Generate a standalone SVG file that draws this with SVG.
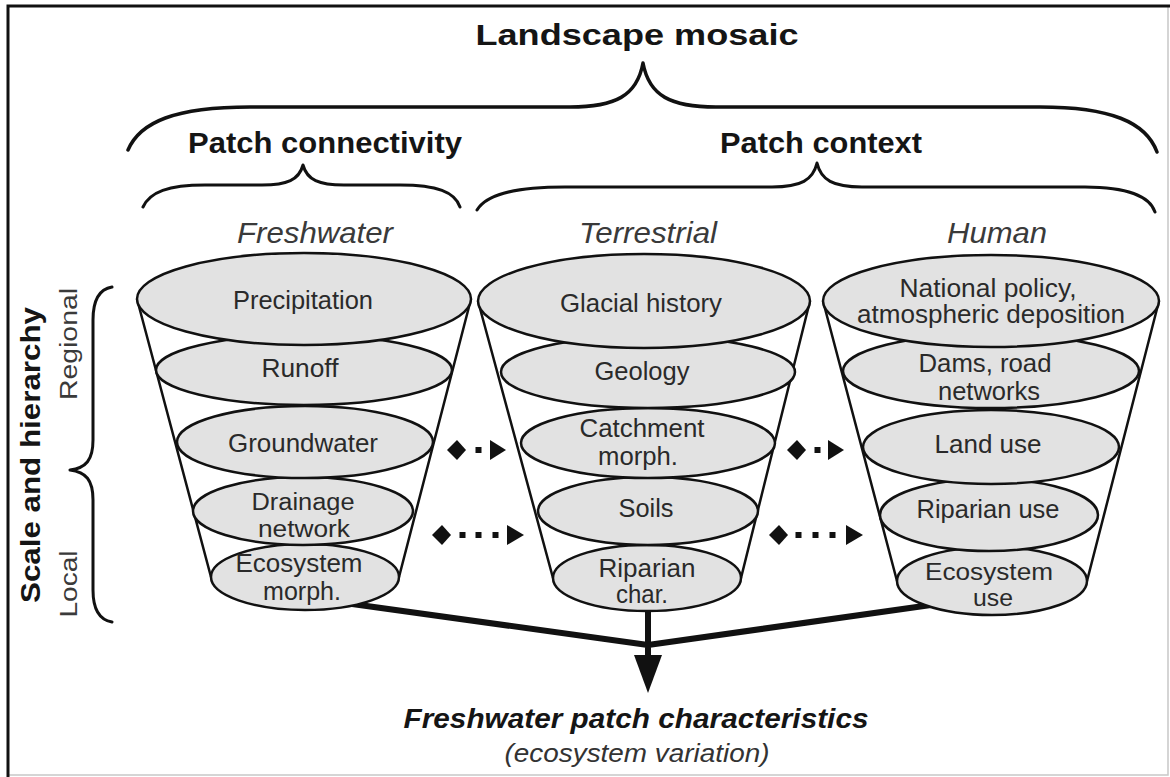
<svg xmlns="http://www.w3.org/2000/svg" width="1170" height="777" viewBox="0 0 1170 777">
<style>
.bg{fill:#fff}
.frame{fill:none;stroke:#111;stroke-width:3}
.frame2{fill:none;stroke:#c8c8c8;stroke-width:1.5}
.brace{fill:none;stroke:#111;stroke-width:3.5;stroke-linecap:round;stroke-linejoin:round}
.brace2{fill:none;stroke:#111;stroke-width:3;stroke-linecap:round;stroke-linejoin:round}
.cone{fill:none;stroke:#111;stroke-width:2.5}
.disc{fill:#e2e2e2;stroke:#111;stroke-width:2.5}
.lbl{font-family:"Liberation Sans",Arial,sans-serif;font-size:25px;fill:#2a2a2a;text-anchor:middle}
.lbs{font-family:"Liberation Sans",Arial,sans-serif;font-size:23px;fill:#2a2a2a;text-anchor:middle}
.hdr{font-family:"Liberation Sans",Arial,sans-serif;font-size:30px;font-style:italic;fill:#3a3a3a;text-anchor:middle}
.ttl{font-family:"Liberation Sans",Arial,sans-serif;font-size:30px;font-weight:bold;fill:#151515;text-anchor:middle}
.side{font-family:"Liberation Sans",Arial,sans-serif;text-anchor:middle}
.flow{fill:none;stroke:#111;stroke-width:6;stroke-linecap:round;stroke-linejoin:round}
.head{fill:#111}
</style>
<rect class="bg" x="0" y="0" width="1170" height="777"/>
<path class="frame2" d="M1168,6 V775 H8"/>
<path class="frame" d="M8,777 V6 H1170"/>

<g id="titles">
<text class="ttl" x="637" y="45" font-size="31" textLength="323" lengthAdjust="spacingAndGlyphs">Landscape mosaic</text>
<text class="ttl" x="325" y="153" font-size="28" textLength="274" lengthAdjust="spacingAndGlyphs">Patch connectivity</text>
<text class="ttl" x="821" y="153" font-size="28" textLength="202" lengthAdjust="spacingAndGlyphs">Patch context</text>
<text class="hdr" x="315" y="243" textLength="156" lengthAdjust="spacingAndGlyphs">Freshwater</text>
<text class="hdr" x="648" y="243" textLength="138" lengthAdjust="spacingAndGlyphs">Terrestrial</text>
<text class="hdr" x="997" y="243" textLength="100" lengthAdjust="spacingAndGlyphs">Human</text>
<text class="side" transform="translate(40,455) rotate(-90)" font-size="28" font-weight="bold" fill="#151515" textLength="296" lengthAdjust="spacingAndGlyphs">Scale and hierarchy</text>
<text class="side" transform="translate(77,344) rotate(-90)" font-size="23" fill="#3a3a3a" textLength="112" lengthAdjust="spacingAndGlyphs">Regional</text>
<text class="side" transform="translate(77,584) rotate(-90)" font-size="23" fill="#3a3a3a" textLength="67" lengthAdjust="spacingAndGlyphs">Local</text>
<text x="636" y="728" font-family="'Liberation Sans',Arial,sans-serif" font-size="28" font-weight="bold" font-style="italic" fill="#151515" text-anchor="middle" textLength="465" lengthAdjust="spacingAndGlyphs">Freshwater patch characteristics</text>
<text x="637" y="762" font-family="'Liberation Sans',Arial,sans-serif" font-size="26" font-style="italic" fill="#333" text-anchor="middle" textLength="265" lengthAdjust="spacingAndGlyphs">(ecosystem variation)</text>
</g>

<g id="braces">
<path class="brace" d="M128,150 C140,122 175,107 250,107 L570,107 C615,107 637,96 643,63 C649,96 671,107 716,107 L1040,107 C1110,107 1146,122 1157,152"/>
<path class="brace2" d="M143,207 C150,192 168,185 205,185 L262,185 C287,185 299,180 303,165 C307,180 319,185 344,185 L400,185 C437,185 455,192 460,207"/>
<path class="brace2" d="M477,210 C486,195 512,187 565,187 L772,187 C801,187 813,180 817,163 C821,180 833,187 862,187 L1085,187 C1128,187 1150,197 1155,212"/>
<path class="brace2" d="M112,287 C100,289 93,300 93,320 L93,440 C93,460 86,468 70,470 C86,472 93,480 93,500 L93,590 C93,610 100,620 112,622"/>
</g>

<g id="cones">
<path class="cone" d="M137,299 L211,577 M471,299 L399,577"/>
<path class="cone" d="M478,301 L553,578 M810,301 L741,578"/>
<path class="cone" d="M823,301 L897,581 M1159,301 L1087,581"/>
</g>

<g id="connectors">
<path class="flow" d="M345,603 L648,645 L945,603 M648,605 L648,660"/>
<polygon class="head" points="634,655 662,655 648,693"/>
<g id="arrow-fw-terr-upper">
<polygon class="head" points="447,450 457,440 466,450 457,460"/>
<rect class="head" x="475.5" y="447" width="6" height="6"/>
<polygon class="head" points="490,440 506,450 490,460"/>
</g>
<g id="arrow-fw-terr-lower">
<polygon class="head" points="432,535 442,525 451,535 442,545"/>
<rect class="head" x="459.5" y="532" width="6" height="6"/>
<rect class="head" x="475.5" y="532" width="6" height="6"/>
<rect class="head" x="492.5" y="532" width="6" height="6"/>
<polygon class="head" points="507,525 524,535 507,545"/>
</g>
<g id="arrow-terr-hum-upper">
<polygon class="head" points="787,450 797,440 806,450 797,460"/>
<rect class="head" x="814.5" y="447" width="6" height="6"/>
<polygon class="head" points="828,440 844,450 828,460"/>
</g>
<g id="arrow-terr-hum-lower">
<polygon class="head" points="769,535 779,525 788,535 779,545"/>
<rect class="head" x="795.5" y="532" width="6" height="6"/>
<rect class="head" x="812.5" y="532" width="6" height="6"/>
<rect class="head" x="829.5" y="532" width="6" height="6"/>
<polygon class="head" points="846,525 863,535 846,545"/>
</g>
</g>

<g id="fw5"><ellipse class="disc" cx="305" cy="577" rx="94" ry="33"/><text class="lbl" x="299" y="572" textLength="127" lengthAdjust="spacingAndGlyphs">Ecosystem</text><text class="lbl" x="302" y="600" textLength="78" lengthAdjust="spacingAndGlyphs">morph.</text></g>
<g id="fw4"><ellipse class="disc" cx="303" cy="511" rx="110" ry="34"/><text class="lbs" x="303" y="510" textLength="103" lengthAdjust="spacingAndGlyphs">Drainage</text><text class="lbs" x="304" y="537" textLength="92" lengthAdjust="spacingAndGlyphs">network</text></g>
<g id="fw3"><ellipse class="disc" cx="305" cy="442" rx="128" ry="36"/><text class="lbl" x="303" y="452" textLength="150" lengthAdjust="spacingAndGlyphs">Groundwater</text></g>
<g id="fw2"><ellipse class="disc" cx="304" cy="370" rx="148" ry="35"/><text class="lbl" x="300" y="377" textLength="77" lengthAdjust="spacingAndGlyphs">Runoff</text></g>
<g id="fw1"><ellipse class="disc" cx="304" cy="299" rx="167" ry="46"/><text class="lbl" x="303" y="309" textLength="140" lengthAdjust="spacingAndGlyphs">Precipitation</text></g>

<g id="t5"><ellipse class="disc" cx="647" cy="578" rx="94" ry="33"/><text class="lbl" x="647" y="577" textLength="97" lengthAdjust="spacingAndGlyphs">Riparian</text><text class="lbl" x="642" y="603" textLength="52" lengthAdjust="spacingAndGlyphs">char.</text></g>
<g id="t4"><ellipse class="disc" cx="648" cy="511" rx="110" ry="34"/><text class="lbl" x="646" y="517" textLength="55" lengthAdjust="spacingAndGlyphs">Soils</text></g>
<g id="t3"><ellipse class="disc" cx="648" cy="443" rx="127" ry="35"/><text class="lbl" x="642" y="437" textLength="125" lengthAdjust="spacingAndGlyphs">Catchment</text><text class="lbl" x="638" y="465" textLength="80" lengthAdjust="spacingAndGlyphs">morph.</text></g>
<g id="t2"><ellipse class="disc" cx="648" cy="372" rx="147" ry="36"/><text class="lbl" x="642" y="380" textLength="95" lengthAdjust="spacingAndGlyphs">Geology</text></g>
<g id="t1"><ellipse class="disc" cx="644" cy="301" rx="166" ry="47"/><text class="lbl" x="641" y="312" textLength="162" lengthAdjust="spacingAndGlyphs">Glacial history</text></g>

<g id="h5"><ellipse class="disc" cx="992" cy="581" rx="95" ry="34"/><text class="lbs" x="989" y="580" textLength="128" lengthAdjust="spacingAndGlyphs">Ecosystem</text><text class="lbs" x="993" y="606" textLength="40" lengthAdjust="spacingAndGlyphs">use</text></g>
<g id="h4"><ellipse class="disc" cx="989" cy="515" rx="109" ry="36"/><text class="lbl" x="988" y="518" textLength="143" lengthAdjust="spacingAndGlyphs">Riparian use</text></g>
<g id="h3"><ellipse class="disc" cx="991" cy="447" rx="128" ry="37"/><text class="lbl" x="988" y="453" textLength="107" lengthAdjust="spacingAndGlyphs">Land use</text></g>
<g id="h2"><ellipse class="disc" cx="991" cy="371" rx="148" ry="37"/><text class="lbl" x="985" y="372" textLength="133" lengthAdjust="spacingAndGlyphs">Dams, road</text><text class="lbl" x="989" y="400" textLength="102" lengthAdjust="spacingAndGlyphs">networks</text></g>
<g id="h1"><ellipse class="disc" cx="991" cy="301" rx="168" ry="46"/><text class="lbl" x="988" y="297" textLength="177" lengthAdjust="spacingAndGlyphs">National policy,</text><text class="lbl" x="991" y="323" textLength="268" lengthAdjust="spacingAndGlyphs">atmospheric deposition</text></g>
</svg>
